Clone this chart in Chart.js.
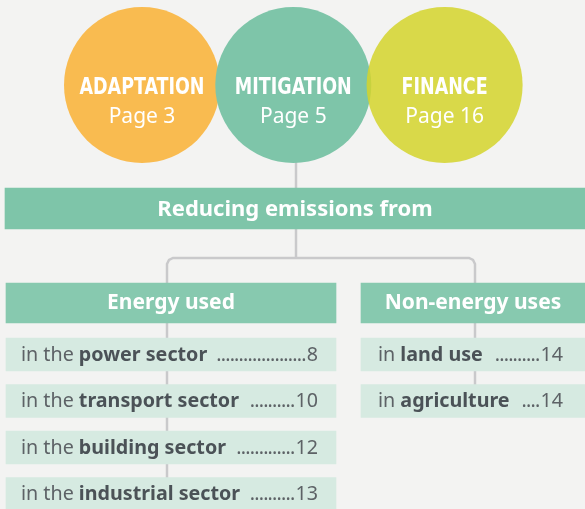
<!DOCTYPE html>
<html>
<head>
<meta charset="utf-8">
<script src="https://cdn.jsdelivr.net/npm/chart.js@4.4.1/dist/chart.umd.min.js"></script>
<style>
  html, body { margin: 0; padding: 0; background: #f3f3f2; }
  #wrap { width: 585px; height: 509px; }
</style>
</head>
<body>
<div id="wrap"><canvas id="diagram" width="585" height="509"></canvas></div>
<script>
// diagram content
const topics = ['ADAPTATION', 'MITIGATION', 'FINANCE'];
const topicPages = [3, 5, 16];
const rootLabel = 'Reducing emissions from';
const groupLabels = ['Energy used', 'Non-energy uses'];
const energyPrefix = 'in the';
const energyItems = ['power sector', 'transport sector', 'building sector', 'industrial sector'];
const energyPages = [8, 10, 12, 13];
const otherPrefix = 'in';
const otherItems = ['land use', 'agriculture'];
const otherPages = [14, 14];

// layout (in scale units, 1 unit = 1px here)
const W = 585, H = 509;
const circleY = 85, circleR = 78, circleX0 = 142, circleStep = 151.3;
const mainX = 296;
const rootY = 208.5;
const columns = [[6, 336], [361, 585]];
const spineX = [167, 475];
const headerY = 303;
const rowY0 = 354.5, rowStep = 46.5;
const rowY = i => rowY0 + i * rowStep;

const FONT = '"Noto Sans", "Open Sans", sans-serif';
const COND = '"Liberation Sans Narrow", "DejaVu Sans Condensed", "DejaVu Sans", sans-serif';
const lineColor = '#c9c9cb';

const circleData = topics.map((t, i) => ({ x: circleX0 + i * circleStep, y: circleY, r: circleR }));
const itemRows = energyItems.map((t, i) => ({ y: rowY(i), x: columns[0] }))
    .concat(otherItems.map((t, i) => ({ y: rowY(i), x: columns[1] })));

const lineDs = (pts) => ({
    type: 'line',
    data: pts,
    borderColor: lineColor,
    borderWidth: 2.5,
    pointRadius: 0,
    fill: false,
    tension: 0,
    order: 10
});
const barDs = (data, thickness, color) => ({
    type: 'bar',
    indexAxis: 'y',
    data: data,
    barThickness: thickness,
    backgroundColor: color,
    borderWidth: 0,
    borderSkipped: false,
    grouped: false,
    order: 2
});

const textPlugin = {
    id: 'diagramText',
    afterDatasetsDraw(chart) {
        const ctx = chart.ctx;
        ctx.save();
        ctx.fillStyle = '#ffffff';
        ctx.textAlign = 'center';
        ctx.textBaseline = 'alphabetic';

        // circle labels, squeezed to a condensed look
        ctx.font = 'bold 23px ' + COND;
        const squeeze = Math.min(1, 125 / ctx.measureText(topics[0]).width);
        chart.getDatasetMeta(0).data.forEach((el, i) => {
            ctx.fillStyle = '#ffffff';
            ctx.font = 'bold 23px ' + COND;
            ctx.save();
            ctx.translate(el.x, el.y + 9);
            ctx.scale(squeeze, 1);
            ctx.fillText(topics[i], 0, 0);
            ctx.restore();
            ctx.font = '21px ' + FONT;
            ctx.fillText('Page ' + topicPages[i], el.x, el.y + 38);
        });

        // root bar
        const root = chart.getDatasetMeta(7).data[0];
        ctx.font = 'bold 22px ' + FONT;
        ctx.fillText(rootLabel, (root.base + root.x) / 2, root.y + 7.5);

        // group headers
        chart.getDatasetMeta(8).data.forEach((el, i) => {
            ctx.font = 'bold 21px ' + FONT;
            ctx.fillText(groupLabels[i], (el.base + el.x) / 2, el.y + 6);
        });

        // items with dot leaders
        const labels = energyItems.map((t, i) => [energyPrefix, t, energyPages[i], 15, 18])
            .concat(otherItems.map((t, i) => [otherPrefix, t, otherPages[i], 17, 22]));
        chart.getDatasetMeta(9).data.forEach((el, i) => {
            const [pre, name, page, padL, padR] = labels[i];
            const y = el.y + 6;
            let x = el.base + padL;
            ctx.textAlign = 'left';
            ctx.font = '19.7px ' + FONT;
            ctx.fillStyle = '#5d6266';
            ctx.fillText(pre + ' ', x, y);
            x += ctx.measureText(pre + ' ').width;
            ctx.font = 'bold 19.7px ' + FONT;
            ctx.fillStyle = '#4b5257';
            ctx.fillText(name, x, y);
            x += ctx.measureText(name).width;
            ctx.font = '19.7px ' + FONT;
            ctx.fillStyle = '#5d6266';
            ctx.textAlign = 'right';
            const numRight = el.x - padR;
            ctx.fillText(String(page), numRight, y);
            const numLeft = numRight - ctx.measureText(String(page)).width;
            // tighter dot leader
            ctx.letterSpacing = '-0.8px';
            const dotW = ctx.measureText('..........').width / 10;
            const n = Math.floor((numLeft - 1 - (x + 8)) / dotW);
            ctx.fillText('.'.repeat(Math.max(n, 0)), numLeft - 1, y);
            ctx.letterSpacing = '0px';
        });
        ctx.restore();
    }
};

new Chart(document.getElementById('diagram'), {
    type: 'bubble',
    data: {
        datasets: [
            {
                data: circleData,
                backgroundColor: ['#f9bb50', '#7ec5a9', 'rgba(211, 211, 44, 0.85)'],
                borderWidth: 0,
                hoverRadius: 0,
                order: 1
            },
            lineDs([{ x: mainX, y: circleY + circleR - 4 }, { x: mainX, y: rootY }]),
            lineDs([{ x: mainX, y: rootY }, { x: mainX, y: 258 }]),
            lineDs([
                { x: spineX[0], y: headerY }, { x: spineX[0], y: 264 }, { x: spineX[0] + 2, y: 260 },
                { x: spineX[0] + 6, y: 258 }, { x: spineX[1] - 6, y: 258 }, { x: spineX[1] - 2, y: 260 },
                { x: spineX[1], y: 264 }, { x: spineX[1], y: headerY }
            ]),
            lineDs([{ x: spineX[0], y: headerY }, { x: spineX[0], y: H }]),
            lineDs([{ x: spineX[1], y: headerY }, { x: spineX[1], y: rowY(otherItems.length - 1) }]),
            lineDs([]),
            barDs([{ y: rootY, x: [5, W] }], 41, '#7ec5a9'),
            barDs(groupLabels.map((g, i) => ({ y: headerY, x: columns[i] })), 40, '#87c9af'),
            barDs(itemRows, 33, '#d6eae1')
        ]
    },
    options: {
        responsive: false,
        animation: false,
        events: [],
        layout: { padding: 0, autoPadding: false },
        plugins: { legend: { display: false }, tooltip: { enabled: false } },
        scales: {
            x: { type: 'linear', min: 0, max: W, offset: false, display: false },
            y: { type: 'linear', min: 0, max: H, reverse: true, offset: false, display: false }
        }
    },
    plugins: [textPlugin]
});
</script>
</body>
</html>
